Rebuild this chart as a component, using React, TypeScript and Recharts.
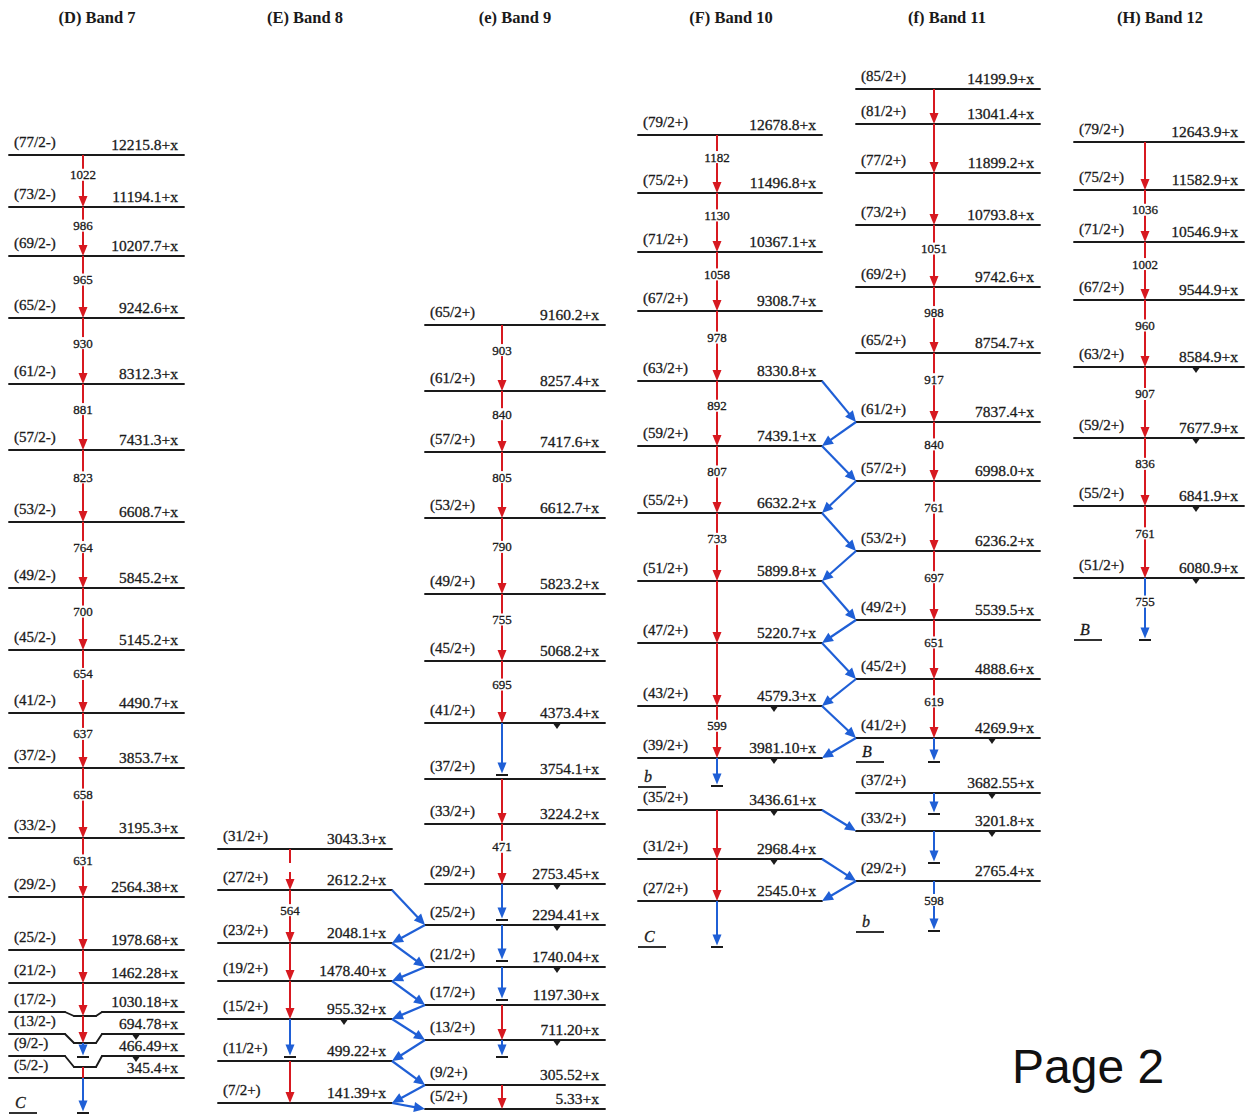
import { ComposedChart, XAxis, YAxis, ReferenceLine, Scatter } from 'recharts'

const W = 1246
const H = 1119

const RED = '#d71920'
const BLUE = '#1f5fd6'
const INK = '#1a1a1a'
const SERIF = '"Liberation Serif", "Times New Roman", serif'

// cascade entries: ['e2' | 'tentative' | 'stub', from, to, gamma?] or ['feed', from, stopY, gamma?]
type Cascade = [string, number, number, string?]
type Link = [string, number, string, number]

// (D) Band 7
const band7Spins = ['(77/2-)', '(73/2-)', '(69/2-)', '(65/2-)', '(61/2-)', '(57/2-)', '(53/2-)', '(49/2-)', '(45/2-)', '(41/2-)', '(37/2-)', '(33/2-)', '(29/2-)', '(25/2-)', '(21/2-)', '(17/2-)', '(13/2-)', '(9/2-)', '(5/2-)']
const band7Energies = ['12215.8', '11194.1', '10207.7', '9242.6', '8312.3', '7431.3', '6608.7', '5845.2', '5145.2', '4490.7', '3853.7', '3195.3', '2564.38', '1978.68', '1462.28', '1030.18', '694.78', '466.49', '345.4']
const band7Y = [155, 207, 256, 318, 384, 450, 522, 588, 650, 713, 768, 838, 897, 950, 983, 1012, 1034, 1056, 1078]
const band7Notch: Record<number, number> = { 15: 1016, 16: 1043, 17: 1067 }
const band7Cascade: Cascade[] = [
  ['e2', 0, 1, '1022'], ['e2', 1, 2, '986'], ['e2', 2, 3, '965'], ['e2', 3, 4, '930'],
  ['e2', 4, 5, '881'], ['e2', 5, 6, '823'], ['e2', 6, 7, '764'], ['e2', 7, 8, '700'],
  ['e2', 8, 9, '654'], ['e2', 9, 10, '637'], ['e2', 10, 11, '658'], ['e2', 11, 12, '631'],
  ['e2', 12, 13], ['e2', 13, 14], ['e2', 14, 15], ['e2', 15, 16],
  ['feed', 16, 1057], ['stub', 17, 18], ['feed', 18, 1113],
]
const band7Marks = [16, 17]
const band7Tags: [string, number][] = [['C', 1113]]

// (E) Band 8
const band8Spins = ['(31/2+)', '(27/2+)', '(23/2+)', '(19/2+)', '(15/2+)', '(11/2+)', '(7/2+)']
const band8Energies = ['3043.3', '2612.2', '2048.1', '1478.40', '955.32', '499.22', '141.39']
const band8Y = [849, 890, 943, 981, 1019, 1061, 1103]
const band8Cascade: Cascade[] = [
  ['tentative', 0, 1], ['e2', 1, 2, '564'], ['e2', 2, 3], ['e2', 3, 4], ['feed', 4, 1057], ['e2', 5, 6],
]
const band8Marks = [4]

// (e) Band 9
const band9Spins = ['(65/2+)', '(61/2+)', '(57/2+)', '(53/2+)', '(49/2+)', '(45/2+)', '(41/2+)', '(37/2+)', '(33/2+)', '(29/2+)', '(25/2+)', '(21/2+)', '(17/2+)', '(13/2+)', '(9/2+)', '(5/2+)']
const band9Energies = ['9160.2', '8257.4', '7417.6', '6612.7', '5823.2', '5068.2', '4373.4', '3754.1', '3224.2', '2753.45', '2294.41', '1740.04', '1197.30', '711.20', '305.52', '5.33']
const band9Y = [325, 391, 452, 518, 594, 661, 723, 779, 824, 884, 925, 967, 1005, 1040, 1085, 1109]
const band9Cascade: Cascade[] = [
  ['e2', 0, 1, '903'], ['e2', 1, 2, '840'], ['e2', 2, 3, '805'], ['e2', 3, 4, '790'],
  ['e2', 4, 5, '755'], ['e2', 5, 6, '695'], ['feed', 6, 775], ['e2', 7, 8], ['e2', 8, 9, '471'],
  ['feed', 9, 920], ['feed', 10, 961], ['feed', 11, 1000], ['e2', 12, 13], ['feed', 13, 1057], ['e2', 14, 15],
]
const band9Marks = [6, 9, 10, 11, 13]

// (F) Band 10
const band10Spins = ['(79/2+)', '(75/2+)', '(71/2+)', '(67/2+)', '(63/2+)', '(59/2+)', '(55/2+)', '(51/2+)', '(47/2+)', '(43/2+)', '(39/2+)', '(35/2+)', '(31/2+)', '(27/2+)']
const band10Energies = ['12678.8', '11496.8', '10367.1', '9308.7', '8330.8', '7439.1', '6632.2', '5899.8', '5220.7', '4579.3', '3981.10', '3436.61', '2968.4', '2545.0']
const band10Y = [135, 193, 252, 311, 381, 446, 513, 581, 643, 706, 758, 810, 859, 901]
const band10Cascade: Cascade[] = [
  ['e2', 0, 1, '1182'], ['e2', 1, 2, '1130'], ['e2', 2, 3, '1058'], ['e2', 3, 4, '978'],
  ['e2', 4, 5, '892'], ['e2', 5, 6, '807'], ['e2', 6, 7, '733'], ['e2', 7, 8], ['e2', 8, 9],
  ['e2', 9, 10, '599'], ['feed', 10, 786], ['e2', 11, 12], ['e2', 12, 13], ['feed', 13, 947],
]
const band10Marks = [9, 10, 11, 12]
const band10Tags: [string, number][] = [['b', 787], ['C', 947]]

// (f) Band 11
const band11Spins = ['(85/2+)', '(81/2+)', '(77/2+)', '(73/2+)', '(69/2+)', '(65/2+)', '(61/2+)', '(57/2+)', '(53/2+)', '(49/2+)', '(45/2+)', '(41/2+)', '(37/2+)', '(33/2+)', '(29/2+)']
const band11Energies = ['14199.9', '13041.4', '11899.2', '10793.8', '9742.6', '8754.7', '7837.4', '6998.0', '6236.2', '5539.5', '4888.6', '4269.9', '3682.55', '3201.8', '2765.4']
const band11Y = [89, 124, 173, 225, 287, 353, 422, 481, 551, 620, 679, 738, 793, 831, 881]
const band11Cascade: Cascade[] = [
  ['e2', 0, 1], ['e2', 1, 2], ['e2', 2, 3], ['e2', 3, 4, '1051'], ['e2', 4, 5, '988'],
  ['e2', 5, 6, '917'], ['e2', 6, 7, '840'], ['e2', 7, 8, '761'], ['e2', 8, 9, '697'],
  ['e2', 9, 10, '651'], ['e2', 10, 11, '619'], ['feed', 11, 762], ['feed', 12, 814],
  ['feed', 13, 863], ['feed', 14, 931, '598'],
]
const band11Marks = [11, 12, 13]
const band11Tags: [string, number][] = [['B', 762], ['b', 932]]

// (H) Band 12
const band12Spins = ['(79/2+)', '(75/2+)', '(71/2+)', '(67/2+)', '(63/2+)', '(59/2+)', '(55/2+)', '(51/2+)']
const band12Energies = ['12643.9', '11582.9', '10546.9', '9544.9', '8584.9', '7677.9', '6841.9', '6080.9']
const band12Y = [142, 190, 242, 300, 367, 438, 506, 578]
const band12Cascade: Cascade[] = [
  ['e2', 0, 1], ['e2', 1, 2, '1036'], ['e2', 2, 3, '1002'], ['e2', 3, 4, '960'],
  ['e2', 4, 5, '907'], ['e2', 5, 6, '836'], ['e2', 6, 7, '761'], ['feed', 7, 640, '755'],
]
const band12Marks = [4, 5, 6, 7]
const band12Tags: [string, number][] = [['B', 640]]

// inter-band linking transitions (zig-zag)
const links8and9: Link[] = [
  ['b8', 1, 'b9', 10], ['b9', 10, 'b8', 2], ['b8', 2, 'b9', 11], ['b9', 11, 'b8', 3],
  ['b8', 3, 'b9', 12], ['b9', 12, 'b8', 4], ['b8', 4, 'b9', 13], ['b9', 13, 'b8', 5],
  ['b8', 5, 'b9', 14], ['b9', 14, 'b8', 6], ['b8', 6, 'b9', 15],
]
const links10and11: Link[] = [
  ['b10', 4, 'b11', 6], ['b11', 6, 'b10', 5], ['b10', 5, 'b11', 7], ['b11', 7, 'b10', 6],
  ['b10', 6, 'b11', 8], ['b11', 8, 'b10', 7], ['b10', 7, 'b11', 9], ['b11', 9, 'b10', 8],
  ['b10', 8, 'b11', 10], ['b11', 10, 'b10', 9], ['b10', 9, 'b11', 11], ['b11', 11, 'b10', 10],
  ['b10', 11, 'b11', 13], ['b10', 12, 'b11', 14], ['b11', 14, 'b10', 13],
]

type Band = {
  key: string; title: string; left: number; right: number; stem: number; center: number
  spins: string[]; energies: string[]; ys: number[]; notch?: Record<number, number>
  cascade: Cascade[]; marks: number[]; tags: [string, number][]
}

const bands: Band[] = [
  { key: 'b7', title: '(D) Band 7', left: 9, right: 184, stem: 83, center: 97, spins: band7Spins, energies: band7Energies, ys: band7Y, notch: band7Notch, cascade: band7Cascade, marks: band7Marks, tags: band7Tags },
  { key: 'b8', title: '(E) Band 8', left: 218, right: 392, stem: 290, center: 305, spins: band8Spins, energies: band8Energies, ys: band8Y, cascade: band8Cascade, marks: band8Marks, tags: [] },
  { key: 'b9', title: '(e) Band 9', left: 425, right: 605, stem: 502, center: 515, spins: band9Spins, energies: band9Energies, ys: band9Y, cascade: band9Cascade, marks: band9Marks, tags: [] },
  { key: 'b10', title: '(F) Band 10', left: 638, right: 822, stem: 717, center: 731, spins: band10Spins, energies: band10Energies, ys: band10Y, cascade: band10Cascade, marks: band10Marks, tags: band10Tags },
  { key: 'b11', title: '(f) Band 11', left: 856, right: 1040, stem: 934, center: 947, spins: band11Spins, energies: band11Energies, ys: band11Y, cascade: band11Cascade, marks: band11Marks, tags: band11Tags },
  { key: 'b12', title: '(H) Band 12', left: 1074, right: 1244, stem: 1145, center: 1160, spins: band12Spins, energies: band12Energies, ys: band12Y, cascade: band12Cascade, marks: band12Marks, tags: band12Tags },
]
const byKey: Record<string, Band> = Object.fromEntries(bands.map((b) => [b.key, b]))

type Pt = { x: number; y: number }
type Seg = [Pt, Pt]

// where an arrow leaves / lands on a level (notched levels use the notch floor)
const stemY = (b: Band, i: number) => b.notch?.[i] ?? b.ys[i]

const levelSegs: Seg[] = bands.flatMap((b) =>
  b.ys.flatMap((y, i): Seg[] => {
    const d = b.notch?.[i]
    if (d == null) return [[{ x: b.left, y }, { x: b.right, y }]]
    const s = b.stem
    return [
      [{ x: b.left, y }, { x: s - 18, y }],
      [{ x: s - 18, y }, { x: s - 9, y: d }],
      [{ x: s - 9, y: d }, { x: s + 13, y: d }],
      [{ x: s + 13, y: d }, { x: s + 19, y }],
      [{ x: s + 19, y }, { x: b.right, y }],
    ]
  }),
)

type ArrowSpec = { seg: Seg; kind: string; gamma?: string }

const cascadeArrows: ArrowSpec[] = bands.flatMap((b) =>
  b.cascade.map(([kind, from, to, gamma]) => {
    const y1 = stemY(b, from)
    const y2 = kind === 'feed' ? to : stemY(b, to)
    return { seg: [{ x: b.stem, y: y1 }, { x: b.stem, y: y2 }] as Seg, kind, gamma }
  }),
)

const linkArrows: ArrowSpec[] = [...links8and9, ...links10and11].map(([fk, fi, tk, ti]) => {
  const f = byKey[fk]
  const t = byKey[tk]
  const rightward = f.left < t.left
  return {
    seg: [
      { x: rightward ? f.right : f.left, y: f.ys[fi] },
      { x: rightward ? t.left : t.right, y: t.ys[ti] },
    ] as Seg,
    kind: 'link',
  }
})

const spinLabels = bands.flatMap((b) => b.spins.map((t, i) => ({ x: b.left, y: b.ys[i], t })))
const energyLabels = bands.flatMap((b) => b.energies.map((t, i) => ({ x: b.right, y: b.ys[i], t: `${t}+x` })))
const markPoints = bands.flatMap((b) => b.marks.map((i) => ({ x: b.right - 48, y: b.ys[i] })))
const titlePoints = bands.map((b) => ({ x: b.center, y: 17, t: b.title }))
const tagSegs = bands.flatMap((b) =>
  b.tags.map(([t, y]) => ({ t, seg: [{ x: b.left, y }, { x: b.left + 28, y }] as Seg })),
)

// thin outline in the fill colour gives the labels a heavier, print-like weight
const heavy = { stroke: INK, strokeWidth: 0.3 }

const levelShape = (p: any) => (
  <line x1={p.x1} y1={p.y1} x2={p.x2} y2={p.y2} stroke={INK} strokeWidth={1.9} strokeLinecap="round" />
)

function arrowShape(kind: string, gamma?: string) {
  return (p: any) => {
    const { x1, y1, x2, y2 } = p
    const color = kind === 'feed' || kind === 'link' ? BLUE : RED
    const dx = x2 - x1
    const dy = y2 - y1
    const len = Math.hypot(dx, dy) || 1
    const ux = dx / len
    const uy = dy / len
    const tee = kind === 'feed'
    const head = kind !== 'stub'
    const tipX = x2 - (tee ? ux * 1.5 : 0)
    const tipY = y2 - (tee ? uy * 1.5 : 0)
    const hl = 11
    const hw = kind === 'link' ? 5 : 4.5
    const bx = tipX - ux * hl
    const by = tipY - uy * hl
    const endX = head ? tipX - ux * 8 : x2
    const endY = head ? tipY - uy * 8 : y2
    const gx = x1 + dx * 0.38
    const gy = y1 + dy * 0.38
    const gw = gamma ? gamma.length * 6.6 + 2 : 0
    return (
      <g>
        <line
          x1={x1}
          y1={y1}
          x2={endX}
          y2={endY}
          stroke={color}
          strokeWidth={kind === 'link' ? 2.2 : 2}
          strokeDasharray={kind === 'tentative' ? '14 9' : undefined}
        />
        {head && (
          <polygon
            points={`${tipX},${tipY} ${bx - uy * hw},${by + ux * hw} ${bx + uy * hw},${by - ux * hw}`}
            fill={color}
          />
        )}
        {tee && <line x1={x2 - 6} y1={y2} x2={x2 + 6} y2={y2} stroke={INK} strokeWidth={2} />}
        {gamma && (
          <g>
            <rect x={gx - gw / 2} y={gy - 6} width={gw} height={12} fill="#fff" />
            <text
              x={gx}
              y={gy}
              textAnchor="middle"
              dominantBaseline="central"
              fontFamily={SERIF}
              fontSize={13}
              fill={INK}
              {...heavy}
            >
              {gamma}
            </text>
          </g>
        )}
      </g>
    )
  }
}

function tagShape(t: string) {
  return (p: any) => (
    <g>
      <line x1={p.x1} y1={p.y1} x2={p.x2} y2={p.y2} stroke={INK} strokeWidth={1.8} />
      <text x={p.x1 + 6} y={p.y1 - 5} fontFamily={SERIF} fontStyle="italic" fontSize={16} fill={INK} {...heavy}>
        {t}
      </text>
    </g>
  )
}

const spinShape = (p: any) => (
  <text x={p.cx + 5} y={p.cy - 8} fontFamily={SERIF} fontSize={15} fill={INK} {...heavy}>
    {p.payload.t}
  </text>
)

const energyShape = (p: any) => (
  <text x={p.cx - 6} y={p.cy - 5} textAnchor="end" fontFamily={SERIF} fontSize={15.5} fill={INK} {...heavy}>
    {p.payload.t}
  </text>
)

const markShape = (p: any) => (
  <polygon points={`${p.cx - 3.5},${p.cy + 1} ${p.cx + 3.5},${p.cy + 1} ${p.cx},${p.cy + 6}`} fill={INK} />
)

const titleShape = (p: any) => (
  <text x={p.cx} y={p.cy} textAnchor="middle" dominantBaseline="central" fontFamily={SERIF} fontWeight="bold" fontSize={16.5} fill={INK}>
    {p.payload.t}
  </text>
)

export default function App() {
  return (
    <div style={{ position: 'relative', width: W, height: H, background: '#fff' }}>
      <style>{'body{margin:0}'}</style>
      <ComposedChart width={W} height={H} margin={{ top: 0, right: 0, bottom: 0, left: 0 }}>
        <XAxis type="number" dataKey="x" domain={[0, W]} hide />
        <YAxis type="number" dataKey="y" domain={[0, H]} reversed hide />
        {levelSegs.map((seg, i) => (
          <ReferenceLine key={`lv${i}`} segment={seg} shape={levelShape} />
        ))}
        {tagSegs.map((g, i) => (
          <ReferenceLine key={`tg${i}`} segment={g.seg} shape={tagShape(g.t)} />
        ))}
        {linkArrows.map((a, i) => (
          <ReferenceLine key={`lk${i}`} segment={a.seg} shape={arrowShape(a.kind)} />
        ))}
        {cascadeArrows.map((a, i) => (
          <ReferenceLine key={`cs${i}`} segment={a.seg} shape={arrowShape(a.kind, a.gamma)} />
        ))}
        <Scatter data={markPoints} shape={markShape} isAnimationActive={false} />
        <Scatter data={spinLabels} shape={spinShape} isAnimationActive={false} />
        <Scatter data={energyLabels} shape={energyShape} isAnimationActive={false} />
        <Scatter data={titlePoints} shape={titleShape} isAnimationActive={false} />
      </ComposedChart>
      <div
        style={{
          position: 'absolute',
          left: 1012,
          top: 1043,
          fontFamily: '"Liberation Sans", Arial, sans-serif',
          fontSize: 48,
          lineHeight: 1,
          color: '#111',
        }}
      >
        Page 2
      </div>
    </div>
  )
}
